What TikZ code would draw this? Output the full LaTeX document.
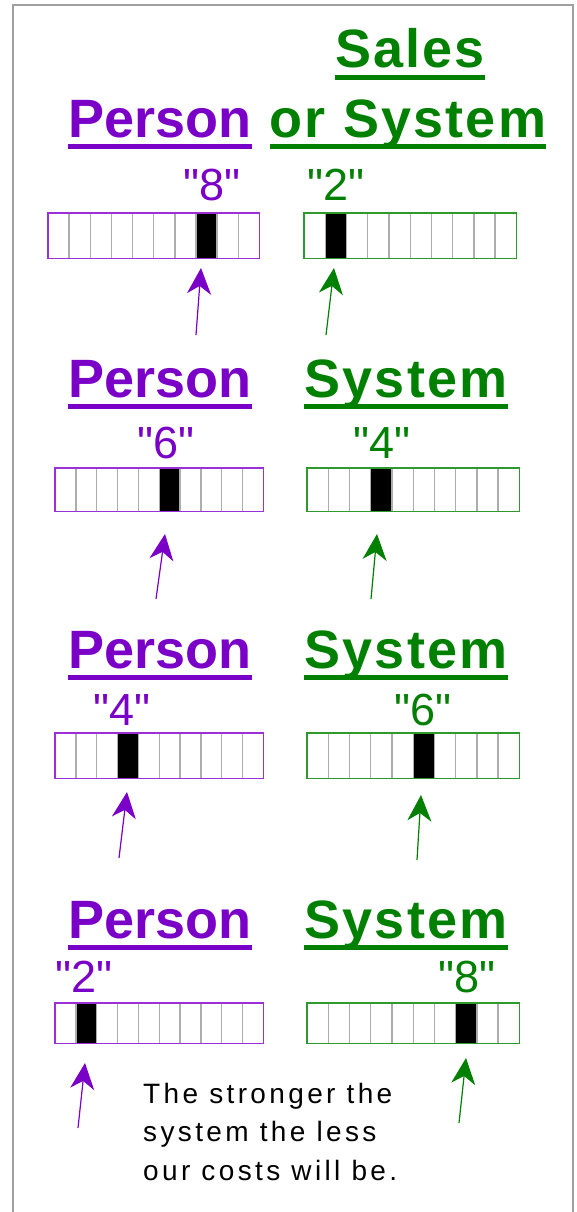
\documentclass[tikz,border=0pt]{standalone}
\usepackage{fontspec}
\setmainfont{Liberation Sans}
\newfontfamily\spacedfont[LetterSpace=4]{Liberation Sans}
\newfontfamily\notefont[LetterSpace=12]{Liberation Sans}
\newfontfamily\scorefont[Ligatures=TeXOff]{Liberation Sans}
\usetikzlibrary{arrows.meta,calc,positioning}
\definecolor{personc}{HTML}{7A00C8}
\definecolor{systemc}{HTML}{008000}
\definecolor{personbar}{HTML}{9B30D9}
\definecolor{systembar}{HTML}{2E9A2E}
\definecolor{divider}{HTML}{ADADAD}
\definecolor{framec}{HTML}{A0A0A0}

\begin{document}
\begin{tikzpicture}[x=1pt, y=-1pt,
    head/.style={inner sep=0, anchor=base, font=\fontsize{54}{54}\selectfont\bfseries},
    score/.style={inner sep=0, anchor=base, font=\fontsize{45}{45}\selectfont\scorefont},
    pointer/.style={line width=1.2pt, -{Stealth[length=26pt, width=24pt, inset=8pt]}},
    bar/.style={inner sep=0, anchor=north west}]
    \useasboundingbox (0,0) rectangle (577,1212);
    \fill[white] (0,0) rectangle (577,1212);
    \draw[framec, line width=1.5pt] (13,1212) -- (13,5) -- (573,5) -- (573,1212);

    % headings
    \node[head, systemc] (sales) at (410,68) {\spacedfont\bfseries Sales};
    \node[head, personc] (person1) at (160,137) {Person};
    \node[head, systemc] (system1) at (408,137) {\spacedfont\bfseries or System};
    \node[head, personc] (person2) at (160,397) {Person};
    \node[head, systemc] (system2) at (406,397) {\spacedfont\bfseries System};
    \node[head, personc] (person3) at (160,668) {Person};
    \node[head, systemc] (system3) at (406,668) {\spacedfont\bfseries System};
    \node[head, personc] (person4) at (160,938) {Person};
    \node[head, systemc] (system4) at (406,938) {\spacedfont\bfseries System};

    \foreach \h/\c in {sales/systemc, person1/personc, system1/systemc, person2/personc,
        system2/systemc, person3/personc, system3/systemc, person4/personc, system4/systemc}
        \fill[\c] ([yshift=-7pt]\h.base west) rectangle ([yshift=-12pt]\h.base east);

    % scores
    \node[score, personc] (pscore1) at (212,200) {"8"};
    \node[score, systemc] (sscore1) at (336,200) {"2"};
    \node[score, personc] (pscore2) at (166,458) {"6"};
    \node[score, systemc] (sscore2) at (382,458) {"4"};
    \node[score, personc] (pscore3) at (122,725) {"4"};
    \node[score, systemc] (sscore3) at (423,725) {"6"};
    \node[score, personc] (pscore4) at (84,992) {"2"};
    \node[score, systemc] (sscore4) at (467,992) {"8"};

    % bars
    \foreach \b/\x/\y/\w/\h/\c/\k in {
        pbar1/48/213/211/45/personbar/8, sbar1/304/213/212/45/systembar/2,
        pbar2/55/468/208/43/personbar/6, sbar2/307/468/212/43/systembar/4,
        pbar3/55/733/208/45/personbar/4, sbar3/307/733/212/45/systembar/6,
        pbar4/55/1003/208/40/personbar/2, sbar4/307/1003/212/40/systembar/8} {
        \node[bar, minimum width=\w pt, minimum height=\h pt] (\b) at (\x,\y) {};
        \pgfmathtruncatemacro{\kk}{\k-1}
        \fill[black] ($(\b.north west)!\kk/10!(\b.north east)$) rectangle ($(\b.south west)!\k/10!(\b.south east)$);
        \foreach \i in {1,...,9}
            \draw[divider, line width=1.4pt] ($(\b.north west)!\i/10!(\b.north east)$) -- ($(\b.south west)!\i/10!(\b.south east)$);
        \draw[\c, line width=1.3pt] (\b.north west) rectangle (\b.south east);
    }

    % arrows
    \coordinate (ptail1) at (196,335);  \coordinate (ptip1) at (201,268);
    \coordinate (stail1) at (326,335);  \coordinate (stip1) at (334,268);
    \coordinate (ptail2) at (156,599);  \coordinate (ptip2) at (165,534);
    \coordinate (stail2) at (371,599);  \coordinate (stip2) at (377,534);
    \coordinate (ptail3) at (119,858);  \coordinate (ptip3) at (127,792);
    \coordinate (stail3) at (417,860);  \coordinate (stip3) at (421,795);
    \coordinate (ptail4) at (78,1128);  \coordinate (ptip4) at (85,1063);
    \coordinate (stail4) at (459,1123); \coordinate (stip4) at (466,1058);
    \foreach \i in {1,...,4} {
        \draw[pointer, personc] (ptail\i) -- (ptip\i);
        \draw[pointer, systemc] (stail\i) -- (stip\i);
    }

    \node[inner sep=0, anchor=base west, align=left, font=\fontsize{28}{38.5}\selectfont\notefont] (note) at (143,1180)
        {The stronger the\\system the less\\our costs will be.};
\end{tikzpicture}
\end{document}
